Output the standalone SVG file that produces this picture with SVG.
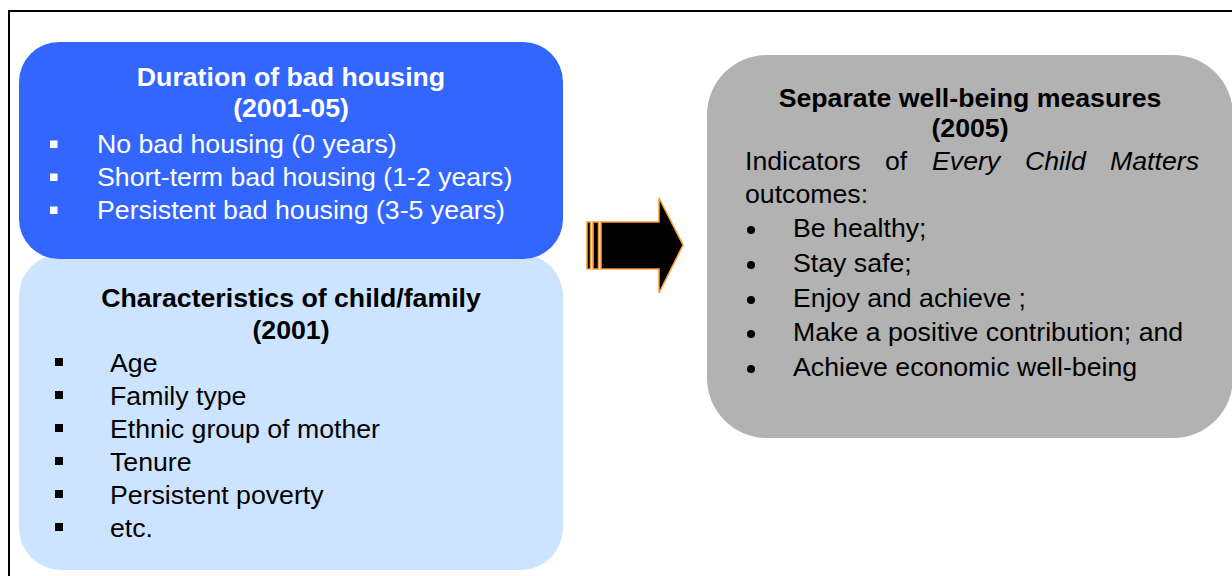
<svg xmlns="http://www.w3.org/2000/svg" width="1232" height="576" viewBox="0 0 1232 576">
<style>
text{font-family:"Liberation Sans",Arial,sans-serif;font-size:26.7px}
.b{font-weight:bold}
.w{fill:#ffffff}
.k{fill:#000000}
.c{text-anchor:middle}
.i{font-style:italic}
.arr{stroke:#FF9933;stroke-width:1.5;fill:#000000}
</style>
<rect x="9" y="11" width="1240" height="600" fill="#ffffff" stroke="#000000" stroke-width="2"/>
<g id="characteristics">
<rect x="19" y="254" width="544" height="316" rx="42" ry="42" fill="#CCE4FF"/>
<text class="b k c" x="291" y="307">Characteristics of child/family</text>
<text class="b k c" x="291" y="339">(2001)</text>
<g fill="#000000">
<rect x="55" y="358" width="8" height="8"/>
<rect x="55" y="391" width="8" height="8"/>
<rect x="55" y="424" width="8" height="8"/>
<rect x="55" y="457" width="8" height="8"/>
<rect x="55" y="490" width="8" height="8"/>
<rect x="55" y="523" width="8" height="8"/>
</g>
<text class="k" x="110" y="372">Age</text>
<text class="k" x="110" y="405">Family type</text>
<text class="k" x="110" y="438">Ethnic group of mother</text>
<text class="k" x="110" y="471">Tenure</text>
<text class="k" x="110" y="504">Persistent poverty</text>
<text class="k" x="110" y="537">etc.</text>
</g>
<g id="duration">
<rect x="19" y="42" width="544" height="217" rx="40" ry="40" fill="#3366FF"/>
<text class="b w c" x="291" y="86">Duration of bad housing</text>
<text class="b w c" x="291" y="117">(2001-05)</text>
<g fill="#ffffff">
<rect x="50" y="140.5" width="7.5" height="7.5"/>
<rect x="50" y="173.5" width="7.5" height="7.5"/>
<rect x="50" y="206.5" width="7.5" height="7.5"/>
</g>
<text class="w" x="97" y="153">No bad housing (0 years)</text>
<text class="w" x="97" y="186">Short-term bad housing (1-2 years)</text>
<text class="w" x="97" y="219">Persistent bad housing (3-5 years)</text>
</g>
<g id="connectors">
<rect class="arr" x="587" y="222" width="3.5" height="47"/>
<rect class="arr" x="593" y="222" width="5.5" height="47"/>
<path class="arr" d="M601,222 L659,222 L659,198 L683,245 L659,293 L659,269 L601,269 Z"/>
</g>
<g id="wellbeing">
<rect x="707" y="55" width="526" height="383" rx="60" ry="60" fill="#B2B2B2"/>
<text class="b k c" x="970" y="107">Separate well-being measures</text>
<text class="b k c" x="970" y="137">(2005)</text>
<text class="k" x="745" y="170">Indicators</text>
<text class="k" x="885" y="170">of</text>
<text class="k i" x="932" y="170">Every</text>
<text class="k i" x="1025" y="170">Child</text>
<text class="k i" x="1110" y="170">Matters</text>
<text class="k" x="745" y="203">outcomes:</text>
<g fill="#000000">
<circle cx="751" cy="230" r="4"/>
<circle cx="751" cy="265" r="4"/>
<circle cx="751" cy="300" r="4"/>
<circle cx="751" cy="334" r="4"/>
<circle cx="751" cy="369" r="4"/>
</g>
<text class="k" x="793" y="237">Be healthy;</text>
<text class="k" x="793" y="272">Stay safe;</text>
<text class="k" x="793" y="307">Enjoy and achieve ;</text>
<text class="k" x="793" y="341">Make a positive contribution; and</text>
<text class="k" x="793" y="376">Achieve economic well-being</text>
</g>
</svg>
